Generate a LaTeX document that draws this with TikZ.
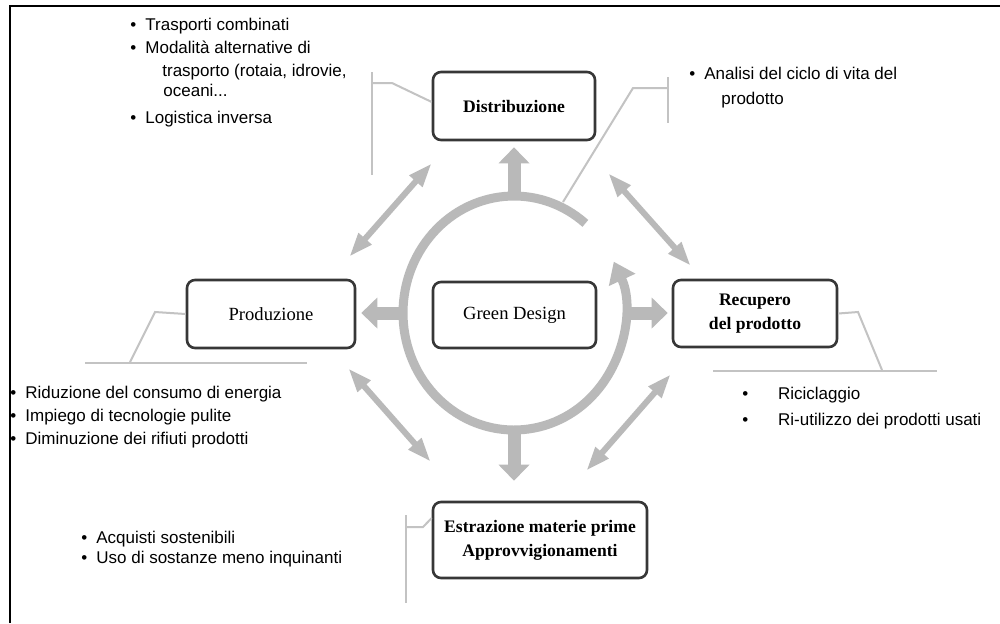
\documentclass[tikz,border=0pt]{standalone}
\usepackage{fontspec}
\setmainfont{Liberation Serif}
\setsansfont{Liberation Sans}
\usetikzlibrary{arrows.meta,shapes.geometric,calc}

\definecolor{boxgray}{RGB}{55,55,55}
\definecolor{arrowgray}{RGB}{185,185,185}
\definecolor{callgray}{RGB}{195,195,195}

% bullet hung to the left of a list line
\newcommand\bitem[1][4.5pt]{\llap{\textbullet\hspace{#1}}}

\begin{document}
\begin{tikzpicture}[x=0.5pt,y=-0.5pt,
  box/.style={draw=boxgray, line width=1.3pt, rounded corners=4pt, fill=white,
    inner sep=0pt, align=center, font=\fontsize{8.8}{12}\selectfont\bfseries},
  plainbox/.style={box, font=\fontsize{9.3}{12}\selectfont},
  radial/.style={draw=arrowgray, line width=6.5pt, -{Triangle[width=15pt,length=8pt]}},
  twoway/.style={draw=arrowgray, line width=3pt,
    {Triangle[width=8pt,length=12pt]}-{Triangle[width=8pt,length=12pt]}},
  ringarrow/.style={draw=arrowgray, line width=4.5pt, -{Triangle[width=14pt,length=10pt]}},
  callout/.style={draw=callgray, line width=1pt},
  item/.style={anchor=west, inner sep=0pt, text height=6pt, text depth=0pt,
    font=\sffamily\fontsize{8.5}{10}\selectfont},
  frame/.style={draw=black, line width=1.2pt}
]
% page area and frame
\path[use as bounding box] (0,0) rectangle (1000,623);
\fill[white] (0,0) rectangle (1000,623);
\coordinate (fl) at (10,623);
\coordinate (fc) at (10,6);
\coordinate (fr) at (1000,6);
\draw[frame] (fl) -- (fc) -- (fr);

% ring around the central box
\node[ellipse, minimum width=111pt, minimum height=117pt, inner sep=0pt] (ring) at (514,313) {};
\coordinate (ringstart) at ($(ring.center)+(71.35,-89.63)$);
\draw[ringarrow] (ringstart) arc[start angle=-50, end angle=-386, x radius=111, y radius=117];

% boxes
\node[box, minimum width=81pt, minimum height=34pt] (dist) at (514,106) {Distribuzione};
\node[plainbox, minimum width=81.5pt, minimum height=33pt] (green) at (514.5,315) {Green Design};
\node[plainbox, minimum width=84pt, minimum height=34pt] (prod) at (271,314) {Produzione};
\node[box, minimum width=82pt, minimum height=33.5pt] (rec) at (755,313.5) {Recupero\\del prodotto};
\node[box, minimum width=107pt, minimum height=38pt] (est) at (540,540) {Estrazione materie prime\\Approvvigionamenti};

% arrows from the ring to the four phases
\draw[radial, shorten >=3pt] (ring.north) -- (ring.north |- dist.south);
\draw[radial, shorten >=2.5pt] (ring.west) -- (ring.west -| prod.east);
\draw[radial, shorten >=2pt] (ring.east) -- (ring.east -| rec.west);
\draw[radial, shorten >=10pt] (ring.south) -- (ring.south |- est.north);

% two-way arrows between neighbouring phases
\draw[twoway] ([yshift=-11pt]dist.south west) -- ([xshift=-3.5pt,yshift=11pt]prod.north east);
\draw[twoway] ([xshift=6pt,yshift=-16pt]dist.south east) -- ([xshift=9.5pt,yshift=6.5pt]rec.north west);
\draw[twoway] ([xshift=-4pt,yshift=-9.5pt]prod.south east) -- ([xshift=-0.5pt,yshift=19.5pt]est.north west);
\draw[twoway] ([xshift=-31pt,yshift=15pt]est.north east) -- ([xshift=-0.5pt,yshift=-13pt]rec.south west);

% callout lines
\coordinate (dtop) at (372,72);
\coordinate (dbot) at (372,175);
\coordinate (dstem) at (372,83);
\coordinate (dknee) at (392,83);
\draw[callout] (dtop) -- (dbot);
\draw[callout] ([yshift=2pt]dist.west) -- (dknee) -- (dstem);

\coordinate (atop) at (668,77);
\coordinate (abot) at (668,123);
\coordinate (astem) at (668,88);
\coordinate (aknee) at (633,88);
\coordinate (aring) at (563,202);
\draw[callout] (atop) -- (abot);
\draw[callout] (aring) -- (aknee) -- (astem);

\coordinate (pknee) at (155,312);
\coordinate (pfoot) at (130,362);
\coordinate (pl) at (85,363);
\coordinate (pr) at (307,363);
\draw[callout] (prod.west) -- (pknee) -- (pfoot);
\draw[callout] (pl) -- (pr);

\coordinate (rknee) at (858,312);
\coordinate (rfoot) at (882,370);
\coordinate (rl) at (713,371);
\coordinate (rr) at (937,371);
\draw[callout] (rec.east) -- (rknee) -- (rfoot);
\draw[callout] (rl) -- (rr);

\coordinate (etop) at (406,515);
\coordinate (ebot) at (406,603);
\coordinate (estem) at (406,527);
\coordinate (eknee) at (423,527);
\draw[callout] (etop) -- (ebot);
\draw[callout] ([yshift=11pt]est.west) -- (eknee) -- (estem);

% lists
\node[item] (t1) at (145,24) {\bitem Trasporti combinati};
\node[item] (t2) at (145,47) {\bitem Modalità alternative di};
\node[item] (t3) at (162,70) {trasporto (rotaia, idrovie,};
\node[item] (t4) at (163,90) {oceani...};
\node[item] (t5) at (145,117) {\bitem Logistica inversa};

\node[item] (a1) at (704,73) {\bitem Analisi del ciclo di vita del};
\node[item] (a2) at (721,98) {prodotto};

\node[item] (p1) at (25,392) {\bitem Riduzione del consumo di energia};
\node[item] (p2) at (25,415) {\bitem Impiego di tecnologie pulite};
\node[item] (p3) at (25,438) {\bitem Diminuzione dei rifiuti prodotti};

\node[item] (r1) at (773,393) {\bitem[12.5pt] Riciclaggio};
\node[item] (r2) at (773,419) {\bitem[12.5pt] Ri-utilizzo dei prodotti usati};

\node[item] (e1) at (96,537) {\bitem Acquisti sostenibili};
\node[item] (e2) at (96,557) {\bitem Uso di sostanze meno inquinanti};
\end{tikzpicture}
\end{document}
